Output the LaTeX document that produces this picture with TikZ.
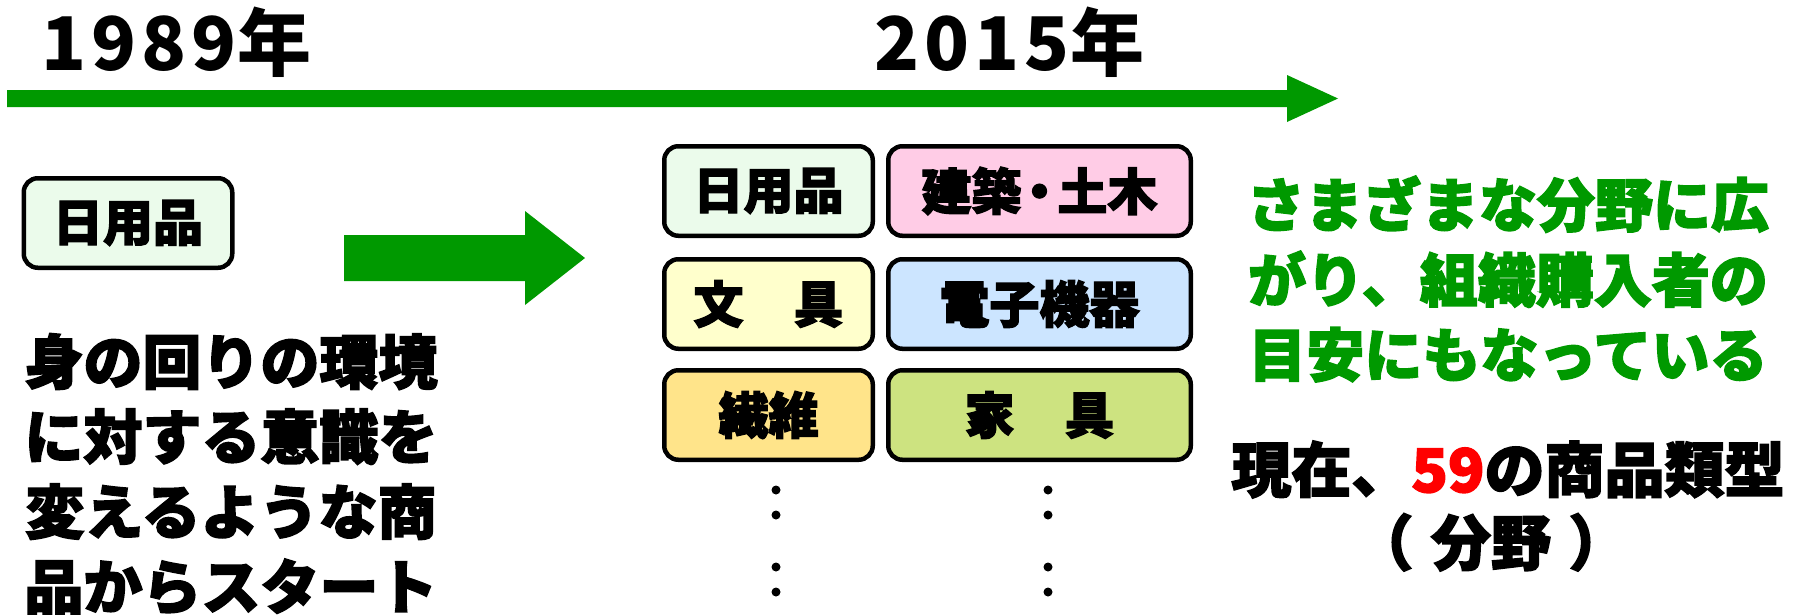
\documentclass[tikz,border=0pt]{standalone}
\usepackage{fontspec}
\setmainfont{Noto Sans CJK JP}[BoldFeatures={FakeBold=2.5}]
\newfontfamily\yearfont{Noto Sans CJK JP}
\definecolor{grn}{RGB}{0,153,0}
\definecolor{fgreen}{RGB}{235,251,235}
\definecolor{fpink}{RGB}{255,204,230}
\definecolor{fyellow}{RGB}{255,255,204}
\definecolor{fblue}{RGB}{204,229,255}
\definecolor{forange}{RGB}{255,228,138}
\definecolor{folive}{RGB}{205,227,128}
\begin{document}
\begin{tikzpicture}[x=1pt,y=-1pt,
  catbox/.style={draw=black,line width=4.5pt,rounded corners=14pt,inner sep=0pt,
    minimum height=89.5pt,font=\fontsize{50}{50}\selectfont\bfseries},
  narrowbox/.style={catbox,minimum width=208.5pt},
  widebox/.style={catbox,minimum width=302.5pt},
  yearlbl/.style={anchor=base west,inner sep=0pt,font=\fontsize{74}{74}\yearfont\bfseries},
  bigtext/.style={align=center,inner sep=0pt,font=\fontsize{59}{75}\selectfont\bfseries},
  dotmark/.style={fill=black}]
\useasboundingbox (0,0) rectangle (1798,614);

% timeline
\fill[grn] (7,90) -- (1287,90) -- (1287,75) -- (1338,98.5) -- (1287,122) -- (1287,107) -- (7,107) -- cycle;
\node[yearlbl] (y1989) at (41,70) {1\kern5pt9\kern5pt8\kern5pt9\kern1pt{}年};
\node[yearlbl] (y2015) at (874,70) {2\kern5pt0\kern5pt1\kern5pt5\kern1pt{}年};

% left
\node[narrowbox,fill=fgreen] (start) at (128,223) {日用品};
\node[bigtext] (starttext) at (231,474) {身の回りの環境\\に対する意識を\\変えるような商\\品からスタート};

% big arrow
\fill[grn] (344,235) -- (525,235) -- (525,211) -- (585,258) -- (525,305) -- (525,281) -- (344,281) -- cycle;

% grid
\node[narrowbox,fill=fgreen]  (nichiyo) at (768.5,191) {日用品};
\node[widebox,fill=fpink]     (kenchiku) at (1039.5,191) {建築\kern-7pt{}・\kern-7pt{}土木};
\node[narrowbox,fill=fyellow] (bungu) at (768.5,304) {文　具};
\node[widebox,fill=fblue]     (denshi) at (1039.5,304) {電子機器};
\node[narrowbox,fill=forange] (seni) at (768.5,415) {繊維};
\node[widebox,fill=folive]    (kagu) at (1039.5,415) {家　具};

\foreach \yy in {490,515,567,592}{
  \fill[dotmark] (776,\yy) circle (4.5);
  \fill[dotmark] (1048,\yy) circle (4.5);
}

% right
\node[bigtext,text=grn,font=\fontsize{58}{75}\selectfont\bfseries] (spread) at (1508,279)
  {さまざまな分野に広\\がり、組織購入者の\\目安にもなっている};
\node[bigtext,font=\fontsize{60}{73}\selectfont\bfseries] (count) at (1508,506)
  {現在、\textcolor{red}{59}の商品類型\\\kern-34pt\makebox[275pt]{（\hfill{}分野\hfill{}）}};
\end{tikzpicture}
\end{document}
